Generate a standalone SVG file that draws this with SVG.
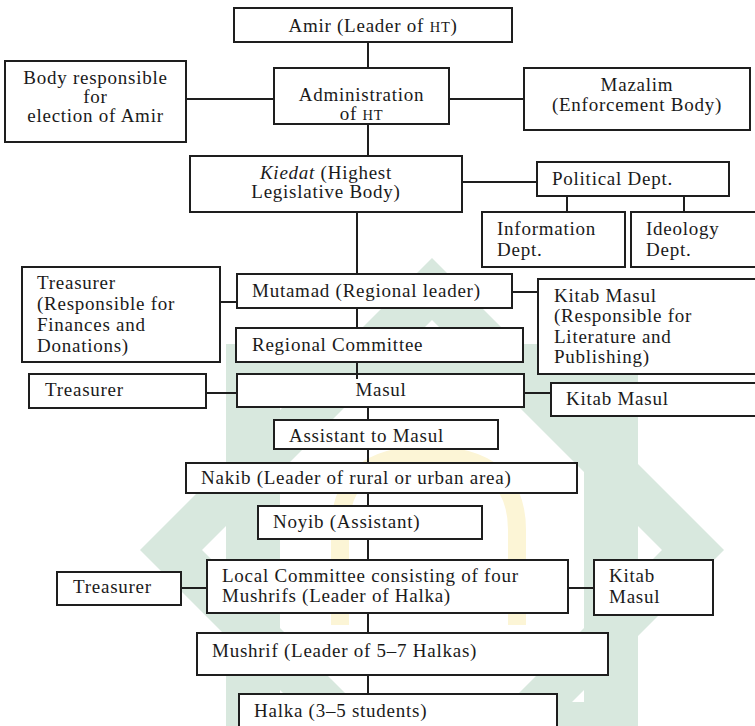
<svg xmlns="http://www.w3.org/2000/svg" width="755" height="726" viewBox="0 0 755 726">
<style>
.b{fill:#fff;stroke:#1e1e1e;stroke-width:2}
#connectors line{stroke:#1e1e1e;stroke-width:2}
text{font-family:"Liberation Serif","Times New Roman",serif;font-size:19px;letter-spacing:0.75px;fill:#1a1a1a}
.m{text-anchor:middle}
.sc{font-size:14.5px}
</style>
<rect width="755" height="726" fill="#fff"/>
<g id="watermark">
<path fill="#d8e8de" fill-rule="evenodd" d="M432,258 L724,550 L432,842 L140,550 Z M432,320 L662,550 L432,780 L202,550 Z"/>
<path fill="#d8e8de" fill-rule="evenodd" d="M226,344 H638 V756 H226 Z M280,398 H584 V702 H280 Z"/>
<path d="M340,625 V530 Q340,455 427,455 Q517,455 517,530 V625" fill="none" stroke="#fcf5d6" stroke-width="18"/>
</g>
<g id="amir"><rect class="b" x="234" y="8" width="278" height="34"/><text class="m" x="373" y="32">Amir (Leader of <tspan class="sc">HT</tspan>)</text></g>
<g id="election-body"><rect class="b" x="5" y="61" width="181" height="81"/><text class="m" x="95.5" y="84">Body responsible</text><text class="m" x="95.5" y="103">for</text><text class="m" x="95.5" y="122">election of Amir</text></g>
<g id="administration"><rect class="b" x="274" y="68" width="175" height="56"/><text class="m" x="361.5" y="101">Administration</text><text class="m" x="361.5" y="120">of <tspan class="sc">HT</tspan></text></g>
<g id="mazalim"><rect class="b" x="524" y="68" width="226" height="62"/><text class="m" x="637" y="91">Mazalim</text><text class="m" x="637" y="111">(Enforcement Body)</text></g>
<g id="kiedat"><rect class="b" x="190" y="156" width="272" height="56"/><text class="m" x="326" y="179"><tspan font-style="italic">Kiedat</tspan> (Highest</text><text class="m" x="326" y="198">Legislative Body)</text></g>
<g id="political"><rect class="b" x="537" y="162" width="192" height="34"/><text x="552" y="185">Political Dept.</text></g>
<g id="information"><rect class="b" x="482" y="212" width="143" height="55"/><text x="497" y="235">Information</text><text x="497" y="256">Dept.</text></g>
<g id="ideology"><rect class="b" x="631" y="212" width="140" height="55"/><text x="646" y="235">Ideology</text><text x="646" y="256">Dept.</text></g>
<g id="treasurer-regional"><rect class="b" x="22" y="267" width="198" height="95"/><text x="37" y="289">Treasurer</text><text x="37" y="310">(Responsible for</text><text x="37" y="331">Finances and</text><text x="37" y="352">Donations)</text></g>
<g id="mutamad"><rect class="b" x="237" y="274" width="275" height="34"/><text x="252" y="297">Mutamad (Regional leader)</text></g>
<g id="kitab-regional"><rect class="b" x="538" y="279" width="230" height="95"/><text x="554" y="302">Kitab Masul</text><text x="554" y="322">(Responsible for</text><text x="554" y="343">Literature and</text><text x="554" y="363">Publishing)</text></g>
<g id="regional-committee"><rect class="b" x="236" y="328" width="287" height="34"/><text x="252" y="351">Regional Committee</text></g>
<g id="masul"><rect class="b" x="237" y="374" width="287" height="33"/><text class="m" x="381" y="396">Masul</text></g>
<g id="treasurer-masul"><rect class="b" x="29" y="374" width="177" height="34"/><text x="45" y="396">Treasurer</text></g>
<g id="kitab-masul"><rect class="b" x="551" y="383" width="220" height="33"/><text x="566" y="405">Kitab Masul</text></g>
<g id="assistant"><rect class="b" x="274" y="420" width="224" height="29"/><text x="289" y="442">Assistant to Masul</text></g>
<g id="nakib"><rect class="b" x="186" y="463" width="391" height="30"/><text x="201" y="484">Nakib (Leader of rural or urban area)</text></g>
<g id="noyib"><rect class="b" x="258" y="506" width="224" height="33"/><text x="273" y="528">Noyib (Assistant)</text></g>
<g id="local-committee"><rect class="b" x="207" y="560" width="361" height="53"/><text x="222" y="582">Local Committee consisting of four</text><text x="222" y="602">Mushrifs (Leader of Halka)</text></g>
<g id="treasurer-local"><rect class="b" x="57" y="572" width="124" height="33"/><text x="73" y="593">Treasurer</text></g>
<g id="kitab-local"><rect class="b" x="594" y="560" width="119" height="55"/><text x="609" y="582">Kitab</text><text x="609" y="603">Masul</text></g>
<g id="mushrif"><rect class="b" x="197" y="633" width="411" height="42"/><text x="212" y="657">Mushrif (Leader of 5–7 Halkas)</text></g>
<g id="halka"><rect class="b" x="239" y="694" width="318" height="50"/><text x="254" y="717">Halka (3–5 students)</text></g>
<g id="connectors">
<line x1="368" y1="42" x2="368" y2="68"/>
<line x1="368" y1="124" x2="368" y2="156"/>
<line x1="186" y1="99" x2="274" y2="99"/>
<line x1="449" y1="99" x2="524" y2="99"/>
<line x1="462" y1="182" x2="537" y2="182"/>
<line x1="567" y1="196" x2="567" y2="212"/>
<line x1="684" y1="196" x2="684" y2="212"/>
<line x1="357" y1="212" x2="357" y2="274"/>
<line x1="220" y1="302" x2="237" y2="302"/>
<line x1="512" y1="292" x2="538" y2="292"/>
<line x1="357" y1="308" x2="357" y2="328"/>
<line x1="357" y1="362" x2="357" y2="379"/>
<line x1="206" y1="393" x2="237" y2="393"/>
<line x1="524" y1="393" x2="551" y2="393"/>
<line x1="368" y1="407" x2="368" y2="420"/>
<line x1="368" y1="449" x2="368" y2="463"/>
<line x1="368" y1="493" x2="368" y2="506"/>
<line x1="368" y1="539" x2="368" y2="560"/>
<line x1="181" y1="588" x2="207" y2="588"/>
<line x1="568" y1="588" x2="594" y2="588"/>
<line x1="368" y1="613" x2="368" y2="633"/>
<line x1="368" y1="675" x2="368" y2="694"/>
</g>
</svg>
